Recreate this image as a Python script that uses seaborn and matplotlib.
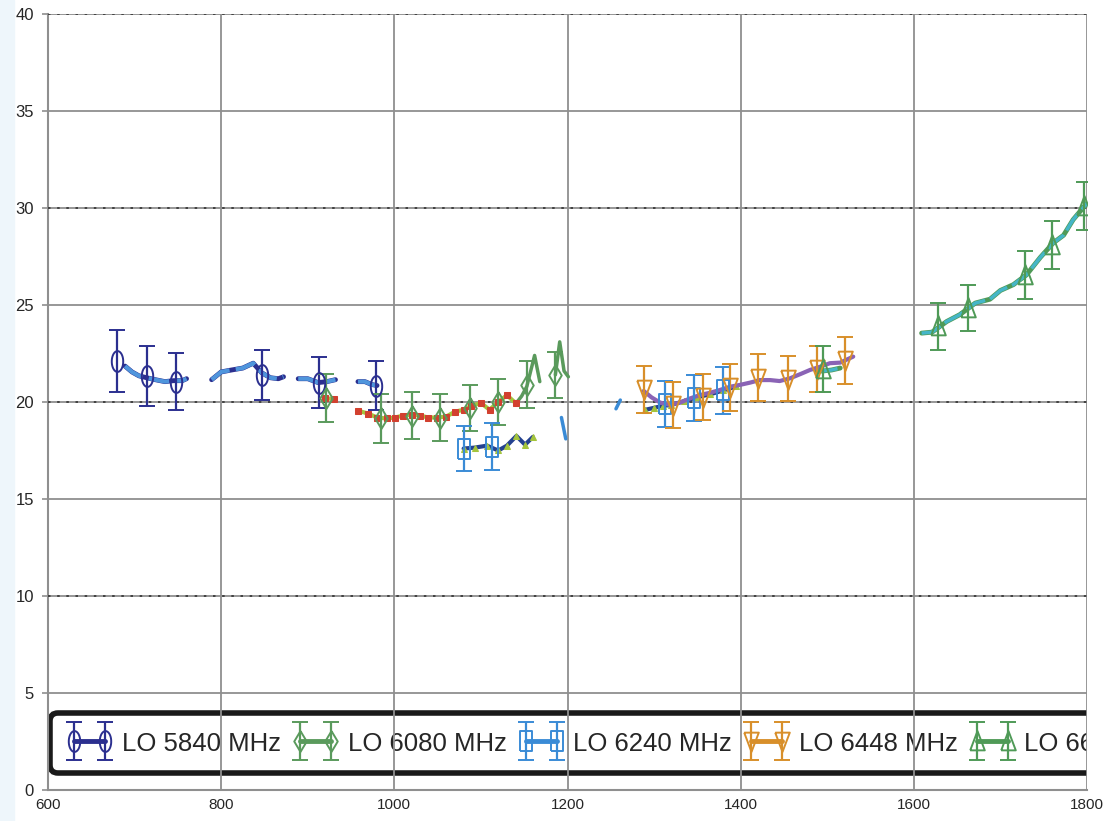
import numpy as np
import matplotlib
matplotlib.use('Agg')
import matplotlib.pyplot as plt
from matplotlib.container import ErrorbarContainer
from matplotlib.legend_handler import HandlerErrorbar
from matplotlib.patches import Rectangle
import seaborn as sns

sns.set_theme(style='white')
plt.rcParams['font.family'] = ['Liberation Sans', 'DejaVu Sans']

# --- marker series with error bars ---
labels = ['LO 5840 MHz', 'LO 6080 MHz', 'LO 6240 MHz', 'LO 6448 MHz', 'LO 6656 MHz']

x_5840 = [680, 714, 748, 847, 913, 979]
y_5840 = [22.1, 21.35, 21.05, 21.4, 21.0, 20.85]
e_5840 = [1.6, 1.55, 1.45, 1.3, 1.3, 1.25]

x_6080 = [921, 985, 1020, 1053, 1087, 1120, 1153, 1186]
y_6080 = [20.2, 19.15, 19.3, 19.2, 19.7, 20.0, 20.9, 21.4]
e_6080 = [1.25, 1.25, 1.2, 1.2, 1.2, 1.2, 1.2, 1.2]

x_6240 = [1080, 1113, 1313, 1346, 1380]
y_6240 = [17.6, 17.7, 19.9, 20.2, 20.6]
e_6240 = [1.15, 1.2, 1.2, 1.2, 1.2]

x_6448 = [1288, 1322, 1357, 1388, 1420, 1455, 1488, 1520]
y_6448 = [20.65, 19.85, 20.25, 20.75, 21.25, 21.2, 21.7, 22.15]
e_6448 = [1.2, 1.2, 1.2, 1.2, 1.2, 1.15, 1.2, 1.2]

x_6656 = [1495, 1628, 1663, 1728, 1760, 1796]
y_6656 = [21.7, 23.9, 24.85, 26.55, 28.1, 30.1]
e_6656 = [1.2, 1.2, 1.2, 1.25, 1.25, 1.25]

# --- fine scan curves (segments) ---
scan_5840 = [
    ([689, 697, 705, 714, 724, 735, 745, 755, 760],
     [21.85, 21.55, 21.35, 21.25, 21.15, 21.05, 21.1, 21.1, 21.2]),
    ([789, 800, 812, 825, 837, 847, 857, 866, 872],
     [21.15, 21.55, 21.65, 21.75, 22.0, 21.5, 21.25, 21.2, 21.3]),
    ([889, 900, 912, 922, 932], [21.2, 21.2, 21.0, 21.05, 21.15]),
    ([958, 966, 974, 980], [21.05, 21.05, 20.9, 20.85]),
]
scan_6080 = [
    ([920, 930], [20.2, 20.15]),
    ([958, 970, 980, 991, 1001, 1010, 1020, 1030, 1039, 1049, 1060, 1070, 1080,
      1089, 1100, 1110, 1120, 1130, 1140],
     [19.55, 19.4, 19.2, 19.15, 19.2, 19.3, 19.35, 19.3, 19.2, 19.2, 19.25, 19.5,
      19.6, 19.8, 19.95, 19.6, 20.0, 20.35, 19.95]),
]
jag_6080 = [
    ([1140, 1147, 1153, 1162, 1168], [19.9, 20.3, 20.8, 22.4, 21.05]),
    ([1186, 1191, 1196, 1201], [21.4, 23.1, 21.6, 21.3]),
]
scan_6240 = [
    ([1080, 1093, 1107, 1120, 1130, 1141, 1151, 1160],
     [17.6, 17.65, 17.75, 17.5, 17.75, 18.25, 17.8, 18.2]),
    ([1290, 1300, 1310, 1320, 1335, 1350, 1365, 1380, 1395],
     [19.6, 19.7, 19.8, 19.85, 20.05, 20.25, 20.4, 20.6, 20.8]),
]
stub_6240 = [
    ([1193, 1198], [19.2, 18.1]),
    ([1256, 1261], [19.65, 20.1]),
]
scan_6448 = [
    ([1288, 1297, 1307, 1318, 1330, 1342, 1353, 1365, 1376, 1388, 1399, 1411,
      1422, 1434, 1445, 1457, 1469, 1480, 1492, 1503, 1515, 1530],
     [20.57, 20.24, 19.97, 19.85, 19.97, 20.19, 20.36, 20.48, 20.62, 20.79, 20.88,
      21.0, 21.13, 21.13, 21.08, 21.22, 21.44, 21.65, 21.82, 22.0, 22.03, 22.34]),
]
scan_6656 = [
    ([1488, 1495, 1505, 1515], [21.6, 21.6, 21.65, 21.75]),
    ([1609, 1621, 1638, 1653, 1671, 1688, 1700, 1715, 1730, 1746, 1761, 1773,
      1784, 1800],
     [23.55, 23.6, 24.15, 24.5, 25.1, 25.3, 25.75, 26.05, 26.55, 27.45, 28.2,
      28.6, 29.4, 30.25]),
]

# tall (stretched) marker shapes
t = np.linspace(0, 2 * np.pi, 40)
m_ellipse = list(zip(0.55 * np.cos(t), np.sin(t)))
m_diamond = [(0, 1), (0.6, 0), (0, -1), (-0.6, 0), (0, 1)]
m_square = [(-0.55, -0.9), (0.55, -0.9), (0.55, 0.9), (-0.55, 0.9), (-0.55, -0.9)]
m_tri_dn = [(-0.7, 0.85), (0.7, 0.85), (0, -1), (-0.7, 0.85)]
m_tri_up = [(-0.7, -0.85), (0.7, -0.85), (0, 1), (-0.7, -0.85)]

fig = plt.figure(figsize=(11.03, 8.21), dpi=100)
fig.patches.append(Rectangle((0, 0), 14 / 1103, 1, transform=fig.transFigure,
                             color='#eef6fb', zorder=0))
ax = fig.add_axes([48 / 1103, 31 / 821, 1039 / 1103, 776 / 821])

c_navy = '#2b2f8f'
c_green = '#5a9a5c'
c_blue = '#3a8bd6'
c_orange = '#d88f2a'
c_green2 = '#4f9a57'

series = [
    (x_5840, y_5840, e_5840, c_navy, m_ellipse),
    (x_6080, y_6080, e_6080, c_green, m_diamond),
    (x_6240, y_6240, e_6240, c_blue, m_square),
    (x_6448, y_6448, e_6448, c_orange, m_tri_dn),
    (x_6656, y_6656, e_6656, c_green2, m_tri_up),
]

# scan lines under the markers
for sx, sy in scan_5840:
    sns.lineplot(x=sx, y=sy, ax=ax, color=c_navy, lw=3.5, sort=False, estimator=None, zorder=3)
    sns.lineplot(x=sx, y=sy, ax=ax, color='#4f95dc', lw=3, ls=(0, (5, 1.5)),
                 sort=False, estimator=None, zorder=3.1)
for sx, sy in jag_6080:
    sns.lineplot(x=sx, y=sy, ax=ax, color=c_green, lw=2.5, sort=False, estimator=None, zorder=3)
for sx, sy in scan_6080:
    sns.lineplot(x=sx, y=sy, ax=ax, color='#a4c43c', lw=3, marker='s', ms=5,
                 mfc='#d2402f', mec='#d2402f', sort=False, estimator=None, zorder=3.2)
for sx, sy in scan_6240:
    sns.lineplot(x=sx, y=sy, ax=ax, color='#24418f', lw=3, marker='^', ms=5,
                 mfc='#a4c43c', mec='#a4c43c', sort=False, estimator=None, zorder=3.2)
for sx, sy in stub_6240:
    sns.lineplot(x=sx, y=sy, ax=ax, color=c_blue, lw=2.5, sort=False, estimator=None, zorder=3)
for sx, sy in scan_6448:
    sns.lineplot(x=sx, y=sy, ax=ax, color='#8a63b5', lw=3, sort=False,
                 estimator=None, zorder=3.3)
for sx, sy in scan_6656:
    sns.lineplot(x=sx, y=sy, ax=ax, color=c_green2, lw=3.5, sort=False, estimator=None, zorder=3)
    sns.lineplot(x=sx, y=sy, ax=ax, color='#45b6c8', lw=2.5, ls=(0, (6, 1.5)),
                 sort=False, estimator=None, zorder=3.1)

handles = []
for sx, sy, se, col, mk in series:
    eb = ax.errorbar(sx, sy, yerr=se, color=col, ls='-', lw=3.5, marker=mk, ms=15,
                     mfc='none', mec=col, mew=1.4, ecolor=col, elinewidth=1.6,
                     capsize=6, capthick=1.6, zorder=4)
    handles.append(eb)

ax.set_xlim(600, 1800)
ax.set_ylim(0, 40)
ax.set_xticks(range(600, 1801, 200))
ax.set_yticks(range(0, 41, 5))
ax.set_xlabel('')
ax.set_ylabel('')

ax.set_axisbelow(False)
ax.grid(True, color='#8f8f8f', lw=1.3)
dash_levels = [10, 20, 30, 40]
ax.hlines(dash_levels, 600, 1800, colors='#333333', linestyles=(0, (1.5, 4)), lw=1.2, zorder=2.6)

for s in ['top', 'right']:
    ax.spines[s].set_visible(False)
for s in ['left', 'bottom']:
    ax.spines[s].set_color('#8f8f8f')
    ax.spines[s].set_linewidth(1.5)

ax.tick_params(axis='y', length=4, width=1.2, color='#8f8f8f', pad=6, labelsize=12, left=True)
ax.tick_params(axis='x', length=0, pad=6, labelsize=11)

leg = ax.legend(handles=handles, labels=labels, loc='lower left',
                bbox_to_anchor=(0.002, 0.022), borderaxespad=0, ncol=5, fontsize=18.5,
                frameon=True, fancybox=True, borderpad=0.64, handlelength=1.8,
                handleheight=1.2, handletextpad=0.35, columnspacing=0.45, numpoints=2,
                handler_map={ErrorbarContainer: HandlerErrorbar(yerr_size=0.74)})
frame = leg.get_frame()
frame.set_linewidth(4)
frame.set_edgecolor('#1a1a1a')
frame.set_facecolor('white')
frame.set_alpha(1)
frame.set_boxstyle('round', pad=0, rounding_size=0.3)
leg.set_zorder(2)
for a in leg.findobj():
    a.set_clip_box(ax.bbox)
    a.set_clip_on(True)

# the marker series are shown without joining lines in the plot
for eb in handles:
    eb[0].set_linestyle('none')

fig.savefig('out.png', dpi=100, facecolor='white')
